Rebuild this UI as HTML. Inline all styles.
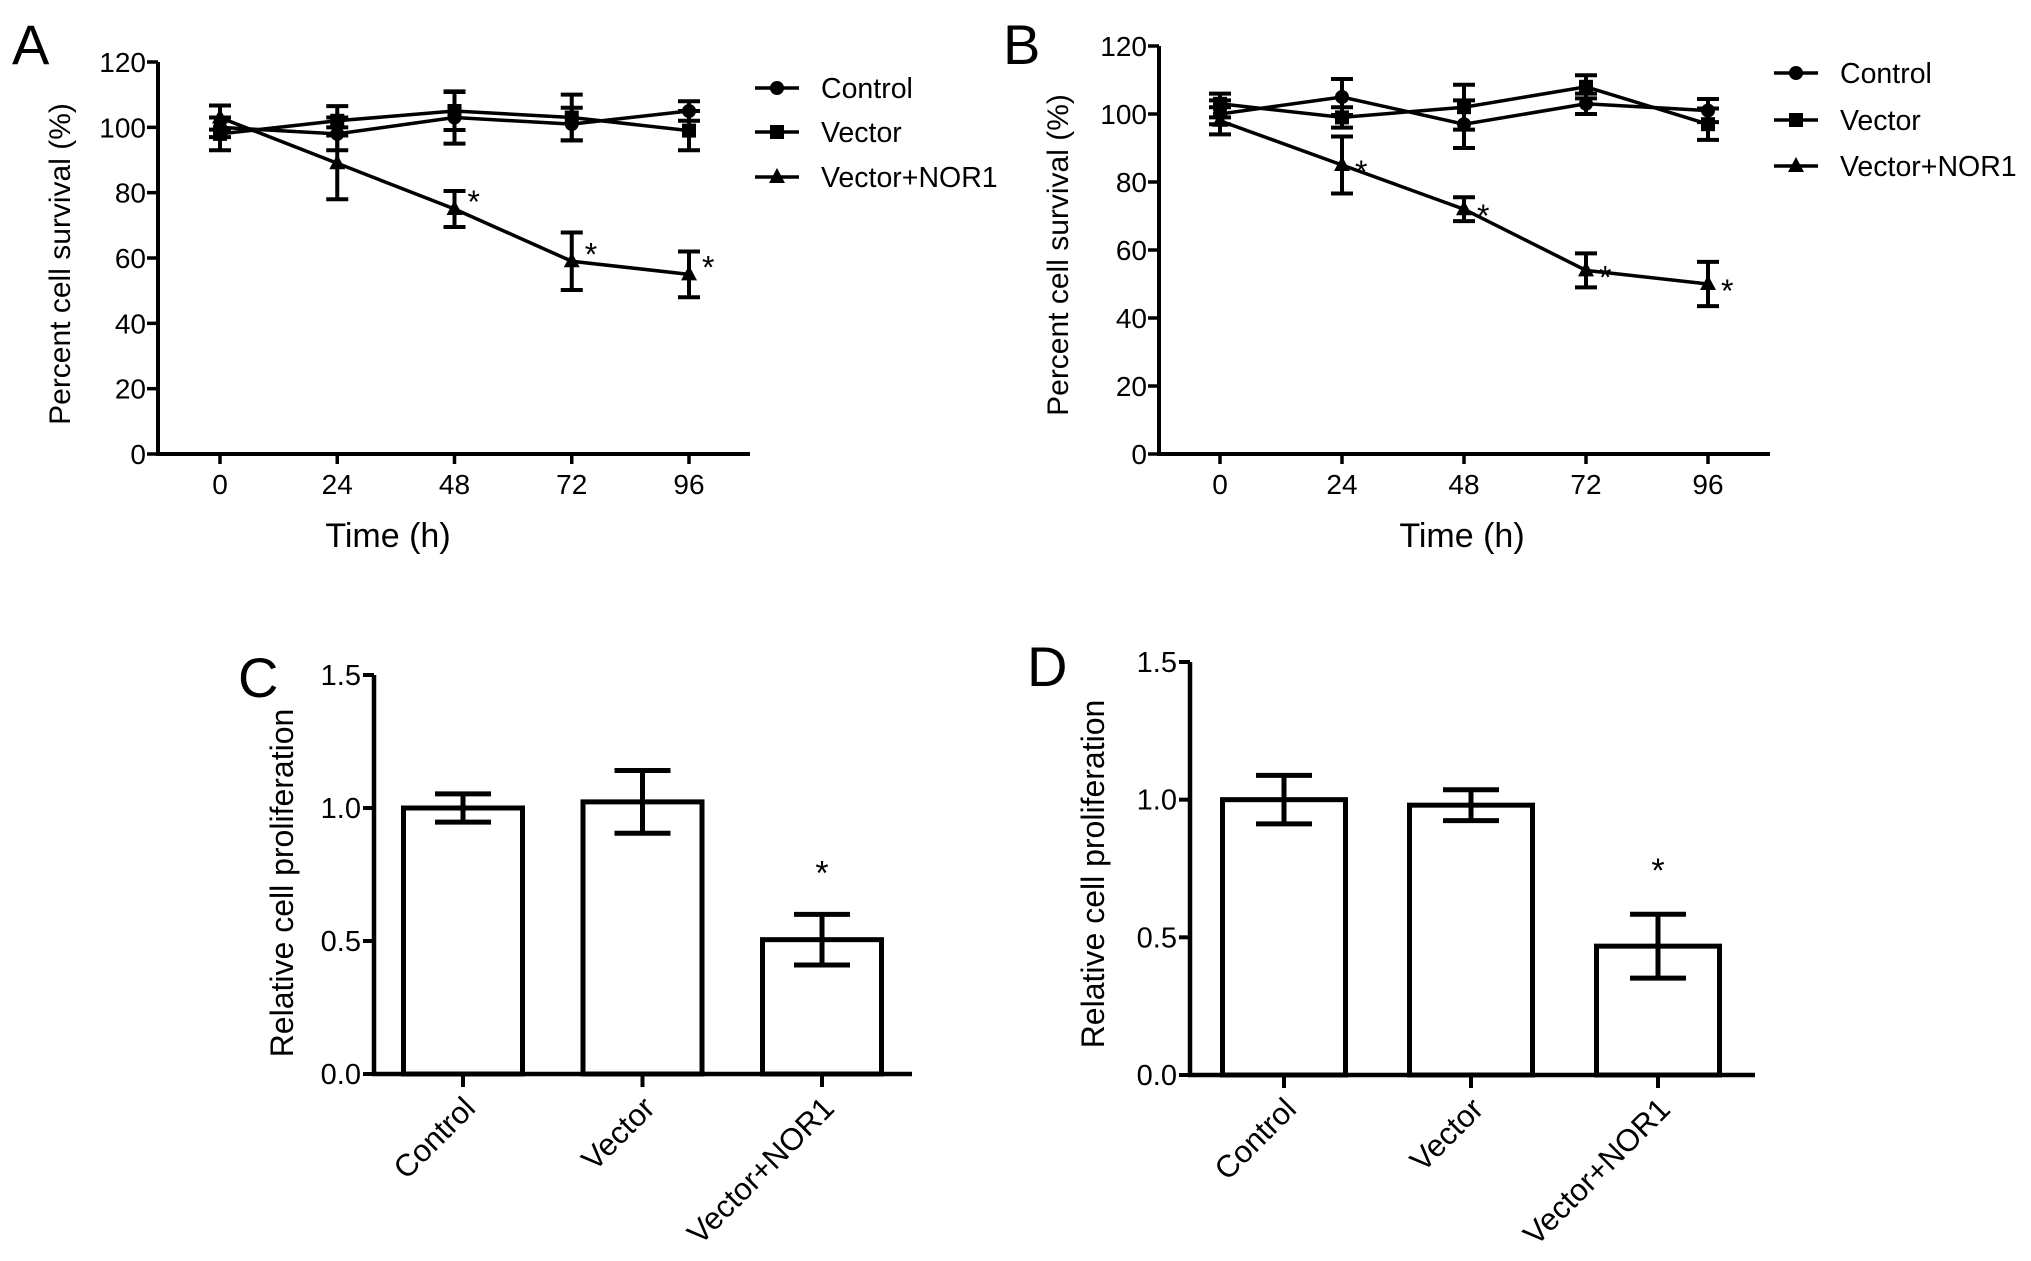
<!DOCTYPE html>
<html><head><meta charset="utf-8">
<style>
html,body{margin:0;padding:0;background:#fff;}
svg{display:block;font-family:"Liberation Sans",Arial,sans-serif;}
</style></head>
<body>
<svg id="fig" width="2031" height="1261" viewBox="0 0 2031 1261" xmlns="http://www.w3.org/2000/svg"></svg>
<script>
// ---- Panel A data ----
const timeCats = [0, 24, 48, 72, 96];
const yTicksLine = [0, 20, 40, 60, 80, 100, 120];
const seriesNames = ["Control", "Vector", "Vector+NOR1"];
const aControl = [100, 98, 103, 101, 105];
const aControlErr = [3, 5, 8, 5, 3];
const aVector = [98, 102, 105, 103, 99];
const aVectorErr = [5, 4.5, 5.8, 7, 6];
const aNor1 = [103, 89, 75, 59, 55];
const aNor1Err = [3.7, 11, 5.5, 8.8, 7];
const aStars = [false, false, true, true, true];
// ---- Panel B data ----
const bControl = [100, 105, 97, 103, 101];
const bControlErr = [6, 5.3, 7, 3, 3.4];
const bVector = [103, 99, 102, 108, 97];
const bVectorErr = [1, 3, 6.6, 3.4, 4.6];
const bNor1 = [98, 85, 72, 54, 50];
const bNor1Err = [1, 8.4, 3.5, 5, 6.5];
const bStars = [false, true, true, true, true];
// ---- Panel C/D data ----
const barCats = ["Control", "Vector", "Vector+NOR1"];
const yTicksBar = ["0.0", "0.5", "1.0", "1.5"];
const cValues = [1.0, 1.023, 0.505];
const cErr = [0.053, 0.118, 0.095];
const dValues = [1.0, 0.98, 0.468];
const dErr = [0.088, 0.056, 0.116];
const barStars = [false, false, true];

const NS = "http://www.w3.org/2000/svg";
const svg = document.getElementById("fig");
function el(tag, attrs, parent, text){
  const e = document.createElementNS(NS, tag);
  for (const k in attrs) e.setAttribute(k, attrs[k]);
  if (text !== undefined) e.textContent = text;
  (parent || svg).appendChild(e);
  return e;
}

function marker(g, type, x, y){
  let m;
  if (type === 0) m = el("circle", {cx:x, cy:y, r:7, fill:"#000"}, g);
  else if (type === 1) m = el("rect", {x:x-7, y:y-7, width:14, height:14, fill:"#000"}, g);
  else m = el("polygon", {points:`${x},${y-9} ${x+8},${y+6} ${x-8},${y+6}`, fill:"#000"}, g);
  return m;
}

function lineChart(o){
  const g = el("g", {});
  
  
  const sx = v => o.x0 + (v - timeCats[0]) / (timeCats[timeCats.length-1] - timeCats[0]) * (o.x1 - o.x0);
  const sy = v => o.yb - v / 120 * (o.yb - o.yt);
  const ax = el("path", {d:`M${o.ax} ${o.yt} V${o.yb} H${o.axEnd}`, stroke:"#000", "stroke-width":4, fill:"none"}, g);
  
  
  yTicksLine.forEach(t => {
    const y = sy(t);
    el("line", {x1:o.ax-11, x2:o.ax, y1:y, y2:y, stroke:"#000", "stroke-width":3.5}, g);
    const tx = el("text", {x:o.ax-12, y:y+10, "font-size":28, "text-anchor":"end"}, g, String(t));
    
    
  });
  timeCats.forEach(t => {
    const x = sx(t);
    el("line", {x1:x, x2:x, y1:o.yb, y2:o.yb+10, stroke:"#000", "stroke-width":3.5}, g);
    const tx = el("text", {x:x, y:o.yb+40, "font-size":28, "text-anchor":"middle"}, g, String(t));
    
    
  });
  const yl = el("text", {x:0, y:0, "font-size":30, "text-anchor":"middle", transform:`translate(${o.ylx},${o.yly}) rotate(-90)`}, g, "Percent cell survival (%)");
  
  
  const xl = el("text", {x:o.xlx, y:o.yb+93, "font-size":34, "text-anchor":"middle"}, g, "Time (h)");
  
  
  const pl = el("text", {x:o.lx, y:64, "font-size":56}, g, o.letter);
  
  
  o.series.forEach((s, si) => {
    const sg = el("g", {}, g);
    
    
    const pts = s.v.map((v,i) => `${sx(timeCats[i])},${sy(v)}`).join(" ");
    el("polyline", {points:pts, fill:"none", stroke:"#000", "stroke-width":3.5}, sg);
    s.v.forEach((v,i) => {
      const x = sx(timeCats[i]), yT = sy(v + s.e[i]), yB = sy(v - s.e[i]);
      const eb = el("path", {d:`M${x} ${yT} V${yB} M${x-11} ${yT} H${x+11} M${x-11} ${yB} H${x+11}`, stroke:"#000", "stroke-width":4, fill:"none"}, sg);
      
      
      const m = marker(sg, si, x, sy(v));
      
      
      if (si === 2 && o.stars[i]) {
        const st = el("text", {x:x+13, y:sy(v)+o.starDy, "font-size":32}, sg, "*");
        
        
      }
    });
  });
  seriesNames.forEach((n, i) => {
    const lg = el("g", {}, g);
    
    
    const y = o.legY[i];
    el("line", {x1:o.legX-22, x2:o.legX+22, y1:y, y2:y, stroke:"#000", "stroke-width":3.5}, lg);
    marker(lg, i, o.legX, y);
    el("text", {x:o.legX+44, y:y+10, "font-size":28.5}, lg, n);
  });
}

lineChart({name:"chart-a", letter:"A", lx:12, x0:220, x1:689, ax:158, axEnd:750, yt:62, yb:454,
  ylx:70, yly:264, xlx:388, legX:777, legY:[88,132,177], starDy:4,
  stars:aStars, series:[{v:aControl,e:aControlErr},{v:aVector,e:aVectorErr},{v:aNor1,e:aNor1Err}]});
lineChart({name:"chart-b", letter:"B", lx:1003, x0:1220, x1:1708, ax:1159, axEnd:1770, yt:46, yb:454,
  ylx:1068, yly:255, xlx:1462, legX:1796, legY:[73,120,166], starDy:18,
  stars:bStars, series:[{v:bControl,e:bControlErr},{v:bVector,e:bVectorErr},{v:bNor1,e:bNor1Err}]});

function barChart(o){
  const g = el("g", {});
  
  
  const sy = v => o.yb - v / 1.5 * (o.yb - o.yt);
  const ax = el("path", {d:`M${o.ax} ${o.yt} V${o.yb} H${o.axEnd}`, stroke:"#000", "stroke-width":4.5, fill:"none"}, g);
  
  
  yTicksBar.forEach(t => {
    const y = sy(parseFloat(t));
    el("line", {x1:o.ax-11, x2:o.ax, y1:y, y2:y, stroke:"#000", "stroke-width":4}, g);
    const tx = el("text", {x:o.ax-13, y:y+10, "font-size":29, "text-anchor":"end"}, g, t);
    
    
  });
  const yl = el("text", {x:0, y:0, "font-size":32, "text-anchor":"middle", transform:`translate(${o.ylx},${o.yly}) rotate(-90)`}, g, "Relative cell proliferation");
  
  
  const pl = el("text", {x:o.lx, y:o.ly, "font-size":56}, g, o.letter);
  
  
  const step = (o.xEnd - o.xStart) / (barCats.length - 1);
  barCats.forEach((c, i) => {
    const x = o.xStart + i * step;
    const bg = el("g", {}, g);
    
    
    const v = o.vals[i], e = o.errs[i];
    el("rect", {x:x-o.bw/2, y:sy(v), width:o.bw, height:o.yb - sy(v), fill:"#fff", stroke:"#000", "stroke-width":5}, bg);
    const yT = sy(v+e), yB = sy(v-e);
    el("path", {d:`M${x} ${yT} V${yB} M${x-28} ${yT} H${x+28} M${x-28} ${yB} H${x+28}`, stroke:"#000", "stroke-width":5, fill:"none"}, bg);
    el("line", {x1:x, x2:x, y1:o.yb, y2:o.yb+13, stroke:"#000", "stroke-width":4}, g);
    const lt = el("text", {x:0, y:0, "font-size":31, "text-anchor":"end", transform:`translate(${x+14},${o.yb+36}) rotate(-45)`}, g, c);
    
    
    if (barStars[i]) {
      const st = el("text", {x:x, y:sy(v+e)+o.starOff, "font-size":34, "text-anchor":"middle"}, g, "*");
      
      
    }
  });
}

barChart({name:"chart-c", letter:"C", lx:238, ly:697, ax:374, axEnd:912, yt:675, yb:1074,
  xStart:463, xEnd:822, bw:119, ylx:293, yly:883, vals:cValues, errs:cErr, starOff:-30});
barChart({name:"chart-d", letter:"D", lx:1027, ly:686, ax:1190, axEnd:1755, yt:662, yb:1075,
  xStart:1284, xEnd:1658, bw:123, ylx:1104, yly:874, vals:dValues, errs:dErr, starOff:-32});
</script>
</body></html>
